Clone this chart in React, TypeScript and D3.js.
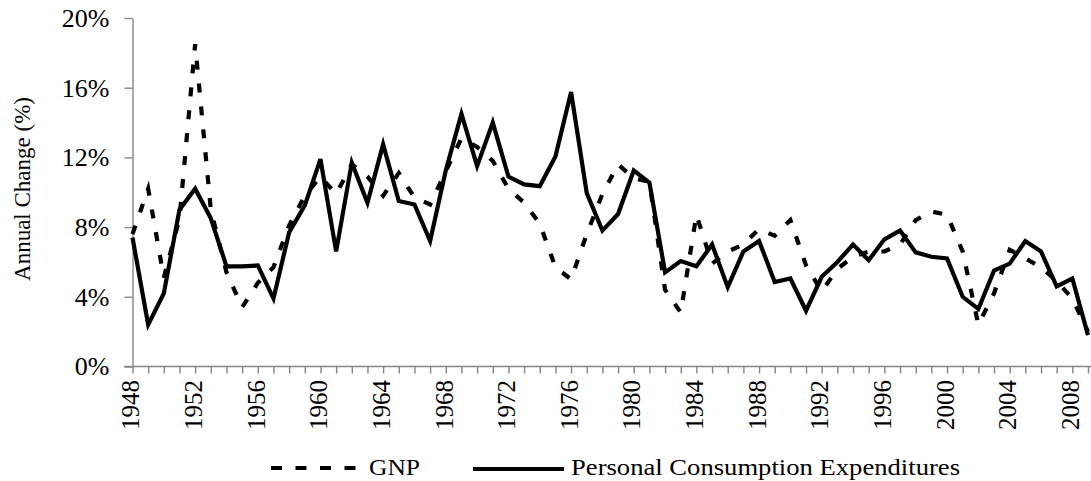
import React, { useRef, useEffect } from 'react';
import { select, scaleLinear, axisLeft, axisBottom, line, range } from 'd3';

const years = range(1948, 2010);

const gnp = [
  7.6, 10.2, 5.1, 8.5, 18.5, 9.0, 5.4, 3.4, 4.8, 5.7,
  8.1, 9.8, 10.9, 9.9, 11.6, 10.9, 9.8, 11.1, 9.7, 9.3,
  11.2, 13.1, 12.6, 11.8, 10.2, 9.4, 8.2, 5.7, 5.0, 7.6,
  9.9, 11.6, 10.8, 10.6, 4.4, 3.1, 8.7, 5.9, 6.6, 7.0,
  7.9, 7.5, 8.4, 5.8, 4.3, 5.6, 6.3, 6.6, 6.6, 7.0,
  8.4, 8.9, 8.7, 6.6, 2.4, 4.2, 6.7, 6.2, 5.7, 4.9,
  3.9, 2.0,
];

const pce = [
  7.4, 2.4, 4.2, 9.0, 10.2, 8.5, 5.75, 5.75, 5.8, 3.9,
  7.7, 9.25, 11.9, 6.6, 11.7, 9.4, 12.75, 9.5, 9.3, 7.2,
  11.25, 14.5, 11.5, 14.0, 10.9, 10.45, 10.35, 12.05, 15.75, 9.95,
  7.8, 8.75, 11.25, 10.55, 5.4, 6.05, 5.75, 7.0, 4.55, 6.6,
  7.2, 4.85, 5.05, 3.2, 5.15, 6.0, 7.0, 6.1, 7.3, 7.8,
  6.55, 6.3, 6.2, 4.0, 3.3, 5.5, 5.9, 7.2, 6.6, 4.6,
  5.05, 1.8,
];

const yTicks = [0, 4, 8, 12, 16, 20];
const labelYears = range(1948, 2010, 4);

const seriesNames = ['GNP', 'Personal Consumption Expenditures'];

function App() {
  const width = 1091;
  const height = 481;
  const svgRef = useRef(null);

  useEffect(() => {
    const svg = select(svgRef.current);
    svg.selectAll('*').remove();

    const font = '"Liberation Serif", "Times New Roman", serif';

    const xScale = scaleLinear().domain([1948, 2009]).range([132.5, 1088]);
    const yScale = scaleLinear().domain([0, 20]).range([366.5, 18]);

    // y axis
    const yAxis = axisLeft(yScale)
      .tickValues(yTicks)
      .tickFormat((d) => d + '%')
      .tickSize(8)
      .tickSizeOuter(0)
      .tickPadding(15);
    const gy = svg.append('g').attr('transform', 'translate(132.5,0)').call(yAxis);
    gy.selectAll('text')
      .style('font-family', font)
      .style('font-size', '26px')
      .attr('fill', '#000');

    // x axis
    const xAxis = axisBottom(xScale)
      .tickValues(years)
      .tickFormat(() => '')
      .tickSize(7)
      .tickSizeOuter(0);
    const gx = svg.append('g').attr('transform', 'translate(0,366.5)').call(xAxis);
    gx.select('.domain').attr('d', `M124,0H${width}`);

    svg.selectAll('.domain, .tick line')
      .attr('stroke', '#858585')
      .attr('stroke-width', 1.4);

    svg.append('g')
      .selectAll('text')
      .data(labelYears)
      .join('text')
      .attr('transform', (d) => `translate(${xScale(d)},380) rotate(-90)`)
      .attr('text-anchor', 'end')
      .attr('dy', '0.27em')
      .style('font-family', font)
      .style('font-size', '25px')
      .attr('fill', '#000')
      .text((d) => d);

    // axis title
    svg.append('text')
      .attr('transform', 'translate(30,189) rotate(-90)')
      .attr('text-anchor', 'middle')
      .style('font-family', font)
      .style('font-size', '23px')
      .attr('fill', '#000')
      .text('Annual Change (%)');

    const makeLine = line()
      .x((d, i) => xScale(years[i]))
      .y((d) => yScale(d));

    svg.append('path')
      .attr('d', makeLine(gnp))
      .attr('fill', 'none')
      .attr('stroke', '#000')
      .attr('stroke-width', 4.2)
      .attr('stroke-dasharray', '9,14');

    svg.append('path')
      .attr('d', makeLine(pce))
      .attr('fill', 'none')
      .attr('stroke', '#000')
      .attr('stroke-width', 4.2)
      .attr('stroke-linejoin', 'miter');

    // legend
    const legend = svg.append('g');
    legend.append('line')
      .attr('x1', 271).attr('x2', 357).attr('y1', 468).attr('y2', 468)
      .attr('stroke', '#000').attr('stroke-width', 4)
      .attr('stroke-dasharray', '11,13.5');
    legend.append('text')
      .attr('x', 369).attr('y', 475)
      .attr('textLength', 51).attr('lengthAdjust', 'spacingAndGlyphs')
      .style('font-family', font).style('font-size', '23px')
      .attr('fill', '#000')
      .text(seriesNames[0]);
    legend.append('line')
      .attr('x1', 473).attr('x2', 564).attr('y1', 469).attr('y2', 469)
      .attr('stroke', '#000').attr('stroke-width', 4);
    legend.append('text')
      .attr('x', 571).attr('y', 475)
      .attr('textLength', 389).attr('lengthAdjust', 'spacingAndGlyphs')
      .style('font-family', font).style('font-size', '23px')
      .attr('fill', '#000')
      .text(seriesNames[1]);
  }, []);

  return (
    <svg
      ref={svgRef}
      width={width}
      height={height}
      style={{ position: 'absolute', left: 0, top: 0, background: '#fff' }}
    />
  );
}

export default App;
